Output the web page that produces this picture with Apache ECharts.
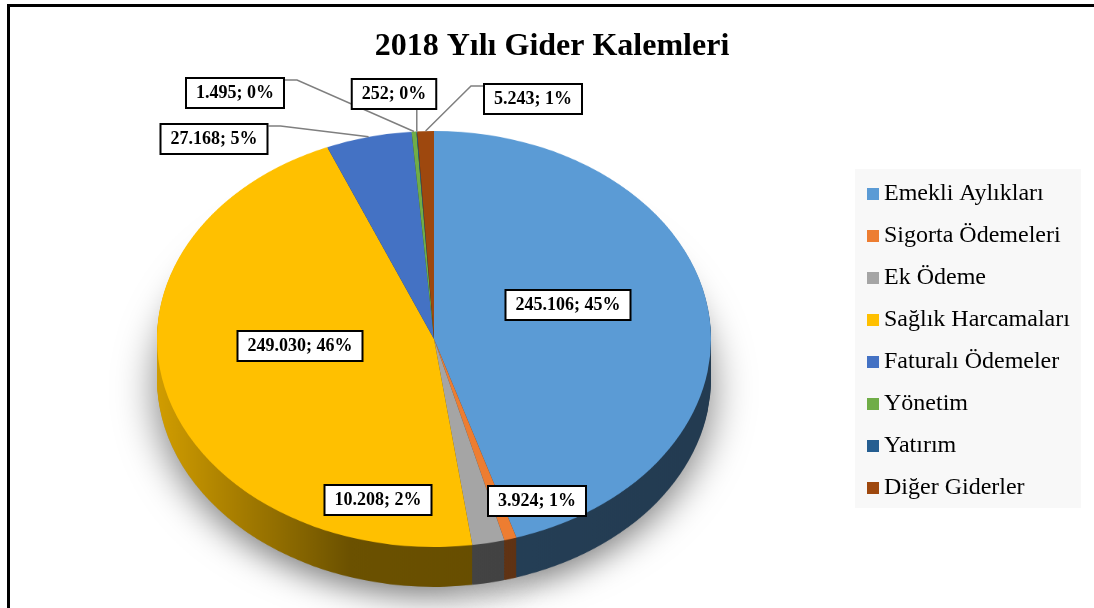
<!DOCTYPE html>
<html>
<head>
<meta charset="utf-8">
<title>2018 Yılı Gider Kalemleri</title>
<script src="https://cdn.jsdelivr.net/npm/echarts@6/dist/echarts.min.js"></script>
<style>
  html, body {
    margin: 0;
    padding: 0;
    background: #fff;
  }
  .stage {
    position: absolute;
    left: 0;
    top: 0;
    width: 1094px;
    height: 608px;
    overflow: hidden;
  }
  .line-top {
    position: absolute;
    left: 7px;
    top: 4px;
    width: 1087px;
    height: 2.5px;
    background: #000;
  }
  .line-left {
    position: absolute;
    left: 7px;
    top: 4px;
    width: 2.5px;
    height: 604px;
    background: #000;
  }
  #pie3d {
    position: absolute;
    left: 0;
    top: 0;
    width: 1094px;
    height: 760px;
    transform-origin: 434px 339px;
  }
  #main {
    position: absolute;
    left: 0;
    top: 0;
    width: 1094px;
    height: 608px;
  }
</style>
</head>
<body>
<div class="stage">
  <div class="line-top"></div>
  <div class="line-left"></div>
  <div id="pie3d"></div>
  <div id="main"></div>
</div>
<script>
// 数据
const categories = ['Emekli Aylıkları', 'Sigorta Ödemeleri', 'Ek Ödeme', 'Sağlık Harcamaları', 'Faturalı Ödemeler', 'Yönetim', 'Yatırım', 'Diğer Giderler']
const values = [245106, 3924, 10208, 249030, 27168, 1495, 252, 5243]

// 颜色
const colors = ['#5b9bd5', '#ed7d31', '#a5a5a5', '#ffc000', '#4472c4', '#70ad47', '#255e91', '#9e480e']

// 饼图几何（3D 倾斜效果）
const cx = 434
const cy = 339
const R = 277
const tilt = 0.751
const depth = 53

// 标签位置（Excel 手动摆放）
const labelAt = [[568, 305], [537, 501], [378, 500], [300, 346], [214, 139], [235, 93], [394, 94], [533, 99]]
const leaderSide = [null, null, null, null, 'right', 'right', 'bottom', 'left']

const total = values.reduce((a, b) => a + b, 0)
const fmt = v => String(v).replace(/\B(?=(\d{3})+(?!\d))/g, '.')

const shade = (hex, f) => {
  const n = parseInt(hex.slice(1), 16)
  const r = Math.round(((n >> 16) & 255) * f)
  const g = Math.round(((n >> 8) & 255) * f)
  const b = Math.round((n & 255) * f)
  return `rgb(${r},${g},${b})`
}

// 侧面渐变（左侧受光）
const sideFill = hex => ({
  type: 'linear',
  x: cx - R, y: 0, x2: cx + R, y2: 0,
  global: true,
  colorStops: [
    { offset: 0, color: shade(hex, 0.82) },
    { offset: 0.35, color: shade(hex, 0.42) },
    { offset: 1, color: shade(hex, 0.38) }
  ]
})

// 扇区中点在椭圆边缘上的位置
const edgePoint = i => {
  let cum = 0
  for (let k = 0; k < i; k++) cum += values[k]
  const a = 2 * Math.PI * (cum + values[i] / 2) / total
  return [cx + R * Math.sin(a), cy - R * tilt * Math.cos(a)]
}

const pieLayer = (d, fill, extra) => ({
  type: 'pie',
  center: [cx, cy + d],
  radius: R,
  startAngle: 90,
  clockwise: true,
  silent: true,
  animation: false,
  label: { show: false },
  labelLine: { show: false },
  emphasis: { disabled: true },
  data: values.map((v, i) => ({
    name: categories[i],
    value: v,
    itemStyle: Object.assign({ color: fill(colors[i]), borderWidth: 0 }, extra || {})
  }))
})

// 初始化3D饼图层
const initPie3d = () => {
  const el = document.getElementById('pie3d')
  el.style.transform = `scaleY(${tilt})`
  const chart = echarts.init(el, null, { width: 1094, height: 760 })

  const series = []
  // 阴影
  series.push(pieLayer(depth, () => '#999', {
    shadowBlur: 40,
    shadowColor: 'rgba(0, 0, 0, 0.5)',
    shadowOffsetY: 14
  }))
  // 侧面
  for (let d = depth; d > 0; d -= 2) {
    series.push(pieLayer(d, c => sideFill(c)))
  }
  // 顶面
  series.push(pieLayer(0, c => c))

  chart.setOption({ animation: false, series })
}

// 初始化标题、图例、数据标签
const initMain = () => {
  const chart = echarts.init(document.getElementById('main'), null, { width: 1094, height: 608 })

  const option = {
    animation: false,
    color: colors,
    title: {
      text: '2018 Yılı Gider Kalemleri',
      left: 547,
      top: 26,
      textAlign: 'center',
      textStyle: {
        fontFamily: 'Liberation Serif',
        fontSize: 32,
        fontWeight: 'bold',
        color: '#000'
      }
    },
    legend: {
      orient: 'vertical',
      left: 855,
      top: 169,
      padding: [13, 11, 8, 12],
      backgroundColor: '#f8f8f8',
      icon: 'rect',
      itemWidth: 12,
      itemHeight: 12,
      itemGap: 18,
      itemStyle: { opacity: 1 },
      textStyle: {
        fontFamily: 'Liberation Serif',
        fontSize: 24,
        lineHeight: 24,
        color: '#000'
      },
      data: categories
    },
    series: [
      {
        name: 'Gider Kalemleri',
        type: 'pie',
        center: [cx, cy],
        radius: R,
        startAngle: 90,
        clockwise: true,
        silent: true,
        avoidLabelOverlap: false,
        itemStyle: { opacity: 0 },
        label: {
          show: true,
          opacity: 1,
          position: 'outside',
          formatter: p => fmt(p.value) + '; ' + Math.round(p.value / total * 100) + '%',
          fontFamily: 'Liberation Serif',
          fontSize: 18,
          fontWeight: 'bold',
          lineHeight: 20,
          color: '#000',
          backgroundColor: '#fff',
          borderColor: '#000',
          borderWidth: 2,
          padding: [4, 9]
        },
        labelLine: {
          show: true,
          lineStyle: { color: '#7f7f7f', width: 1.5, opacity: 1 }
        },
        labelLayout: p => {
          const i = p.dataIndex
          const [x, y] = labelAt[i]
          const out = { x, y, align: 'center', verticalAlign: 'middle' }
          const side = leaderSide[i]
          if (side) {
            const [ex, ey] = edgePoint(i)
            const w = p.labelRect.width
            const h = p.labelRect.height
            if (side === 'right') {
              out.labelLinePoints = [[ex, ey], [x + w / 2 + 12, y - h / 2 + 3], [x + w / 2, y - h / 2 + 3]]
            } else if (side === 'left') {
              out.labelLinePoints = [[ex, ey], [x - w / 2 - 12, y - h / 2 + 3], [x - w / 2, y - h / 2 + 3]]
            } else {
              out.labelLinePoints = [[ex, ey], [ex, (ey + y + h / 2) / 2], [ex, y + h / 2]]
            }
          }
          return out
        },
        data: values.map((v, i) => ({
          name: categories[i],
          value: v,
          label: leaderSide[i] ? {} : { position: 'inside' },
          labelLine: { show: !!leaderSide[i] }
        }))
      }
    ]
  }

  chart.setOption(option)
}

initPie3d()
initMain()
</script>
</body>
</html>
